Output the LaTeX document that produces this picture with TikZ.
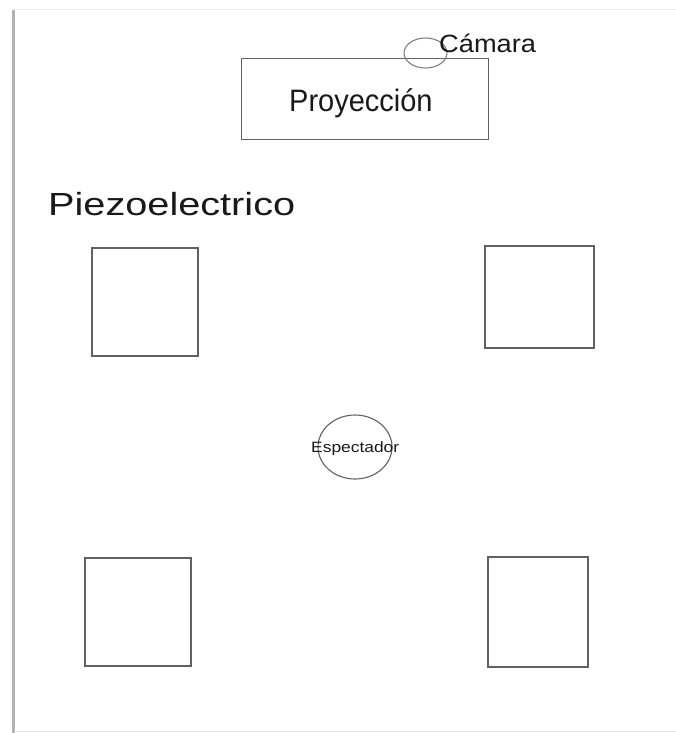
\documentclass[tikz,border=0pt]{standalone}
\usepackage{fontspec}
\usepackage{graphicx}
\setmainfont{Liberation Sans}
\usetikzlibrary{shapes.geometric}
\tikzset{
  box/.style={draw=black!62, line width=1.3pt, inner sep=0pt, rectangle},
  oval/.style={draw=black!62, line width=1.1pt, inner sep=0pt, ellipse},
  lbl/.style={inner sep=0pt, anchor=base west, text=black!90}
}
\begin{document}
\begin{tikzpicture}[x=1pt,y=-1pt]
\useasboundingbox (0,0) rectangle (676,733);
\fill[white] (0,0) rectangle (676,733);
% page edges
\draw[black!8, line width=1pt] (14,10) -- (676,10);
\draw[black!30, line width=2.5pt] (13.5,10) -- (13.5,733);
\draw[black!10, line width=1pt] (14,731.5) -- (676,731.5);
% projection box and camera
\node[box, minimum width=247pt, minimum height=81pt] (proj) at (364.7,98.8) {};
\node[oval, draw=black!50, minimum width=43pt, minimum height=30pt] (cam) at (425.5,53) {};
\node[lbl] (projt) at (289,112) {\fontsize{31}{36}\selectfont\scalebox{0.935}[1]{Proyección}};
\node[lbl] (camt) at (439,53) {\fontsize{25}{30}\selectfont\scalebox{1.09}[1]{Cámara}};
% title
\node[lbl] (piezo) at (48,215) {\fontsize{32}{38}\selectfont\scalebox{1.24}[1]{Piezoelectrico}};
% piezo squares
\node[box, minimum width=106pt, minimum height=108pt] (tl) at (145,302) {};
\node[box, minimum width=109pt, minimum height=102pt] (tr) at (539.5,297) {};
\node[box, minimum width=106pt, minimum height=108pt] (bl) at (138,612) {};
\node[box, minimum width=100pt, minimum height=110pt] (br) at (538,612) {};
% spectator
\node[oval, minimum width=74pt, minimum height=64pt] (spec) at (355,447) {};
\node[lbl] (spect) at (311,452) {\fontsize{15}{18}\selectfont\scalebox{1.16}[1]{Espectador}};
\end{tikzpicture}
\end{document}
